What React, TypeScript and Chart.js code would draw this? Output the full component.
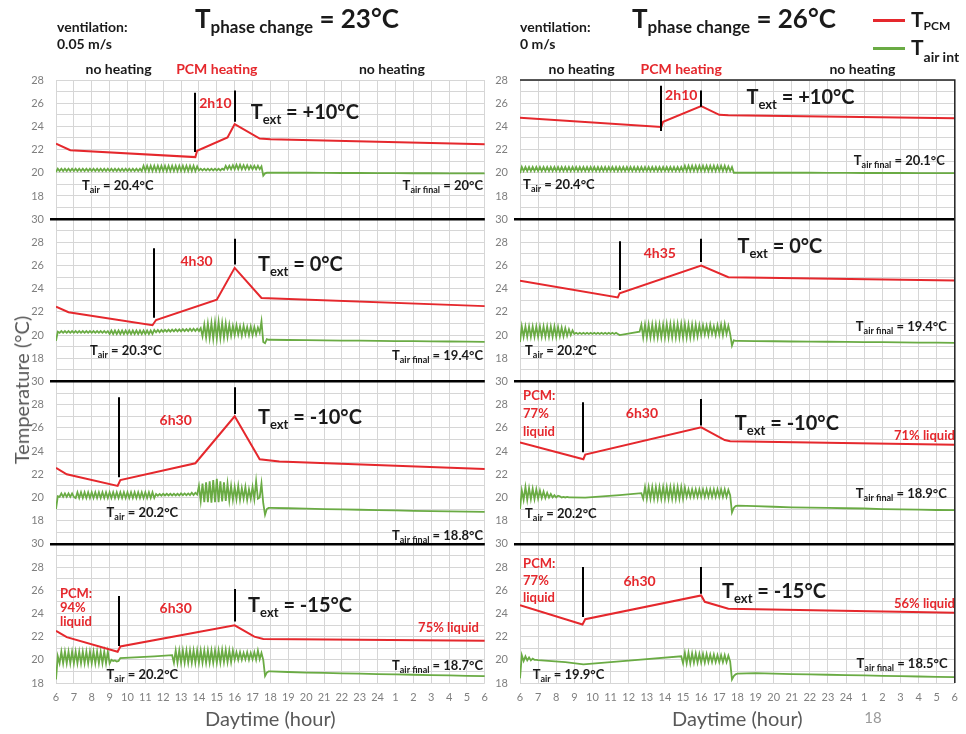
import React, { useEffect, useRef } from 'react';
import { Chart, registerables } from 'chart.js';

Chart.register(...registerables);

const FONT = 'Lato, "Open Sans", sans-serif';
const RED = '#e5282d';
const GREEN = '#6aab44';
const GRID = '#d6d6d6';
const TICK = '#7f7f7f';
const INK = '#1a1a1a';

// x tick labels: hours 6 .. 24 then 1 .. 6 of the next day
const HOUR_LABELS = ['6', '7', '8', '9', '10', '11', '12', '13', '14', '15', '16', '17', '18', '19', '20', '21', '22', '23', '24', '1', '2', '3', '4', '5', '6'];

// ---------- T PCM, breakpoints [hour, °C] ----------
const PCM_L1: [number, number][] = [[6, 22.5], [6.8, 21.95], [13.8, 21.35], [13.9, 21.9], [15.6, 23.05], [16, 24.2], [17.4, 22.95], [18, 22.9], [30, 22.45]];
const PCM_L2: [number, number][] = [[6, 22.45], [6.7, 21.97], [11.4, 20.85], [11.6, 21.3], [15, 23.05], [16, 25.8], [17.5, 23.2], [30, 22.5]];
const PCM_L3: [number, number][] = [[6, 22.55], [6.6, 22.0], [9.45, 21.0], [9.6, 21.5], [13.8, 22.95], [16, 27.0], [17.4, 23.3], [18.5, 23.1], [30, 22.45]];
const PCM_L4: [number, number][] = [[6, 22.5], [6.6, 21.95], [9.45, 20.7], [9.6, 21.15], [16, 22.97], [17.1, 22.0], [17.6, 21.8], [30, 21.65]];
const PCM_R1: [number, number][] = [[6, 24.75], [13.8, 23.95], [13.9, 24.4], [16, 25.75], [17, 25.0], [17.5, 24.95], [30, 24.7]];
const PCM_R2: [number, number][] = [[6, 24.7], [11.4, 23.25], [11.5, 23.6], [16, 26.0], [17.5, 25.0], [30, 24.7]];
const PCM_R3: [number, number][] = [[6, 24.75], [9.5, 23.3], [9.6, 23.7], [16, 26.05], [17.3, 24.95], [17.6, 24.85], [30, 24.55]];
const PCM_R4: [number, number][] = [[6, 24.7], [9.45, 23.05], [9.6, 23.5], [16, 25.55], [16.2, 25.0], [17.5, 24.4], [30, 24.05]];

// ---------- T air int, 6:00 .. 17:54 every 6 min (null = straight stretch) ----------
const AIR_L1_DAY: (number | null)[] = [
  20.05, 20.35, 20.15, 20.35, 20.15, 20.35, 20.15, 20.35, 20.15, 20.35,
  20.15, 20.35, 20.15, 20.35, 20.15, 20.35, 20.15, 20.35, 20.15, 20.35,
  20.15, 20.35, 20.15, 20.35, 20.15, 20.35, 20.15, 20.35, 20.15, 20.35,
  20.15, 20.35, 20.15, 20.35, 20.15, 20.35, 20.15, 20.35, 20.15, 20.35,
  20.15, 20.35, 20.15, 20.35, 20.15, 20.35, 20.15, 20.35, 20.15, 20.6,
  20.15, 20.6, 20.15, 20.6, 20.15, 20.6, 20.15, 20.6, 20.15, 20.6,
  20.15, 20.6, 20.15, 20.6, 20.15, 20.6, 20.15, 20.6, 20.15, 20.6,
  20.15, 20.6, 20.15, 20.6, 20.15, 20.6, 20.15, 20.6, 20.15, 20.55,
  20.2, 20.35, 20.2, 20.35, 20.2, 20.35, 20.2, 20.35, 20.2, 20.35,
  20.2, 20.35, 20.2, 20.35, 20.25, 20.6, 20.3, 20.6, 20.3, 20.65,
  20.3, 20.7, 20.3, 20.7, 20.3, 20.65, 20.3, 20.65, 20.3, 20.6,
  20.3, 20.6, 20.3, 20.6, 20.3, 20.55, 19.75, 19.95, 20.0, 20.0,
];
const AIR_L2_DAY: (number | null)[] = [
  19.5, 20.3, 20.2, 20.35, 20.2, 20.35, 20.2, 20.35, 20.2, 20.35,
  20.2, 20.35, 20.2, 20.35, 20.2, 20.35, 20.2, 20.35, 20.2, 20.35,
  20.2, 20.35, 20.2, 20.35, 20.2, 20.35, 20.2, 20.35, 20.2, 20.35,
  20.1, 20.4, 20.1, 20.4, 20.1, 20.4, 20.1, 20.4, 20.1, 20.4,
  20.1, 20.4, 20.1, 20.4, 20.1, 20.4, 20.1, 20.4, 20.1, 20.4,
  20.1, 20.4, 20.1, 20.4, 20.1, 20.45, 20.25, 20.45, 20.25, 20.45,
  20.28, 20.45, 20.3, 20.48, 20.3, 20.48, 20.32, 20.5, 20.32, 20.5,
  20.32, 20.52, 20.35, 20.52, 20.35, 20.55, 20.35, 20.55, 20.35, 20.55,
  20.35, 20.6, 19.9, 20.9, 19.8, 21.0, 19.75, 21.05, 19.7, 21.1,
  19.7, 21.15, 19.75, 21.05, 19.8, 21.0, 19.85, 20.9, 19.95, 20.8,
  20.0, 20.85, 20.05, 20.75, 19.95, 20.8, 20.05, 20.7, 20.0, 20.75,
  20.0, 20.7, 20.05, 20.65, 20.2, 21.2, 19.4, 19.3, 19.65, 19.6,
];
const AIR_L3_DAY: (number | null)[] = [
  19.0, 20.1, 20.05, 20.35, 20.05, 20.35, 20.05, 20.35, 20.05, 20.35,
  20.05, 19.95, 20.45, 19.95, 20.45, 19.95, 20.45, 19.95, 20.45, 19.95,
  20.45, 19.95, 20.45, 19.95, 20.45, 19.95, 20.45, 19.95, 20.45, 19.95,
  20.45, 19.95, 20.45, 19.95, 20.45, 19.95, 20.45, 19.95, 20.45, 19.95,
  20.45, 19.95, 20.45, 19.95, 20.45, 19.95, 20.45, 19.95, 20.45, 19.95,
  20.45, 19.95, 20.45, 19.95, 20.45, 19.95, 20.3, 20.15, 20.3, 20.15,
  20.32, 20.17, 20.32, 20.17, 20.32, 20.17, 20.32, 20.17, 20.32, 20.17,
  20.35, 20.2, 20.35, 20.2, 20.35, 20.2, 20.4, 20.2, 20.4, 20.25,
  21.0, 19.7, 21.2, 19.6, 21.3, 19.6, 21.4, 19.55, 21.5, 19.6,
  21.6, 19.6, 21.4, 19.65, 21.3, 19.7, 21.2, 19.75, 21.0, 19.8,
  20.9, 19.85, 21.0, 19.8, 20.8, 19.9, 20.9, 19.8, 20.7, 19.9,
  20.9, 19.85, 21.4, 19.9, 20.0, 21.2, 19.5, 18.5, 19.0, 19.1,
];
const AIR_L4_DAY: (number | null)[] = [
  18.3, 20.3, 19.7, 20.7, 19.7, 20.7, 19.7, 20.7, 19.7, 20.7,
  19.7, 20.7, 19.7, 20.7, 19.7, 20.7, 19.7, 20.7, 19.7, 20.7,
  19.7, 20.7, 19.7, 20.7, 19.7, 20.7, 19.7, 20.7, 19.7, 20.7,
  19.7, 20.0, 19.9, 19.95, 19.85, 19.9, 20.15, null, null, null,
  null, null, null, null, null, null, null, null, null, null,
  null, null, null, null, null, 20.3, null, null, null, null,
  null, null, null, null, null, 20.4, 19.75, 20.8, 19.75, 20.8,
  19.75, 20.8, 19.75, 20.8, 19.75, 20.8, 19.75, 20.8, 19.75, 20.8,
  19.75, 20.8, 19.75, 20.8, 19.75, 20.8, 19.75, 20.8, 19.75, 20.8,
  19.75, 20.8, 19.75, 20.85, 19.8, 20.85, 19.8, 20.8, 19.8, 20.8,
  20.0, 20.65, 20.0, 20.65, 20.0, 20.6, 20.05, 20.65, 20.0, 20.6,
  20.05, 20.65, 20.0, 20.8, 20.05, 20.6, 20.0, 18.6, 18.9, 19.0,
];
const AIR_R1_DAY: (number | null)[] = [
  19.95, 20.5, 20.15, 20.5, 20.15, 20.5, 20.15, 20.5, 20.15, 20.5,
  20.15, 20.5, 20.15, 20.5, 20.15, 20.5, 20.15, 20.5, 20.15, 20.5,
  20.15, 20.5, 20.15, 20.5, 20.15, 20.5, 20.15, 20.5, 20.15, 20.5,
  20.15, 20.5, 20.15, 20.5, 20.15, 20.5, 20.15, 20.5, 20.15, 20.5,
  20.15, 20.5, 20.15, 20.5, 20.15, 20.5, 20.15, 20.5, 20.15, 20.5,
  20.15, 20.5, 20.15, 20.5, 20.15, 20.5, 20.15, 20.5, 20.15, 20.5,
  20.15, 20.5, 20.15, 20.5, 20.15, 20.5, 20.15, 20.5, 20.15, 20.5,
  20.15, 20.5, 20.15, 20.5, 20.15, 20.5, 20.15, 20.5, 20.15, 20.5,
  20.15, 20.5, 20.15, 20.5, 20.15, 20.5, 20.15, 20.5, 20.15, 20.5,
  20.15, 20.6, 20.15, 20.6, 20.15, 20.6, 20.15, 20.6, 20.15, 20.6,
  20.15, 20.6, 20.15, 20.6, 20.15, 20.6, 20.15, 20.6, 20.15, 20.6,
  20.15, 20.6, 20.15, 20.6, 20.15, 20.55, 20.15, 20.5, 20.0, 20.0,
];
const AIR_R2_DAY: (number | null)[] = [
  19.4, 20.75, 19.85, 20.75, 19.85, 20.75, 19.85, 20.75, 19.85, 20.75,
  19.85, 20.75, 19.85, 20.75, 19.85, 20.75, 19.85, 20.75, 19.85, 20.75,
  19.85, 20.7, 19.9, 20.65, 19.9, 20.6, 19.95, 20.5, 20.0, 20.4,
  20.1, 20.2, 20.1, 20.2, 20.1, 20.2, 20.1, 20.2, 20.1, 20.2,
  20.1, 20.2, 20.1, 20.2, 20.1, 20.2, 20.1, 20.2, 20.1, 20.2,
  20.1, 20.2, 20.1, 20.2, 20.1, 20.0, null, null, null, null,
  null, null, null, null, null, null, 20.3, 20.9, 19.8, 20.9,
  19.8, 20.9, 19.8, 20.9, 19.8, 20.9, 19.8, 20.9, 19.8, 20.9,
  19.8, 20.95, 19.8, 20.95, 19.8, 20.95, 19.8, 20.95, 19.8, 20.95,
  19.8, 20.95, 19.8, 20.9, 19.8, 20.9, 19.85, 20.9, 19.9, 20.85,
  20.0, 20.85, 20.05, 20.8, 20.0, 20.9, 20.1, 20.75, 20.0, 20.85,
  20.05, 20.9, 20.0, 20.95, 20.1, 20.8, 20.1, 19.1, 19.55, 19.5,
];
const AIR_R3_DAY: (number | null)[] = [
  19.0, 20.6, 19.8, 20.9, 19.8, 20.8, 19.85, 20.75, 19.85, 20.7,
  19.9, 20.6, 19.95, 20.5, 19.95, 20.4, 20.0, 20.3, 20.0, 20.2,
  20.0, 20.15, 20.1, 20.0, 20.05, 20.0, 20.05, 20.0, 20.0, null,
  null, null, null, null, null, null, 19.98, null, null, null,
  null, null, null, null, null, null, null, null, null, null,
  null, null, null, null, null, 20.2, null, null, null, null,
  null, null, null, null, null, null, null, 20.37, 19.9, 20.9,
  19.9, 20.9, 19.9, 20.9, 19.9, 20.9, 19.9, 20.9, 19.9, 20.9,
  19.9, 20.9, 19.9, 20.9, 19.9, 20.9, 19.9, 20.9, 19.9, 20.9,
  19.9, 20.85, 20.05, 20.7, 20.05, 20.7, 20.05, 20.7, 20.05, 20.7,
  20.05, 20.7, 20.05, 20.7, 20.05, 20.7, 20.05, 20.7, 20.05, 20.7,
  20.05, 20.7, 20.05, 20.7, 20.05, 20.65, 20.2, 18.7, 19.1, 19.25,
];
const AIR_R4_DAY: (number | null)[] = [
  18.4, 20.4, 19.9, 20.3, 19.95, 20.2, 19.95, 20.1, 20.0, 20.0,
  19.97, null, null, null, null, null, null, null, null, null,
  null, null, null, null, null, 19.8, null, null, null, null,
  null, null, null, null, null, 19.6, null, null, null, null,
  null, null, null, null, null, null, null, null, null, null,
  null, null, null, null, null, null, null, null, null, null,
  null, null, null, null, null, 20.0, null, null, null, null,
  null, null, null, null, null, null, null, null, null, null,
  null, null, null, null, null, null, null, null, null, 20.3,
  19.7, 20.6, 19.7, 20.6, 19.7, 20.55, 19.75, 20.55, 19.75, 20.5,
  19.75, 20.5, 19.75, 20.5, 19.8, 20.45, 19.8, 20.45, 19.8, 20.4,
  19.8, 20.4, 19.8, 20.4, 19.8, 20.35, 19.85, 18.3, 18.6, 18.75,
];

// ---------- T air int, hourly 18:00 .. 6:00 next day ----------
const AIR_L1_NIGHT = [20.0, 20.0, 20.0, 19.99, 19.98, 19.98, 19.97, 19.97, 19.96, 19.96, 19.95, 19.95, 19.94];
const AIR_L2_NIGHT = [19.6, 19.58, 19.56, 19.55, 19.53, 19.52, 19.5, 19.49, 19.48, 19.46, 19.45, 19.44, 19.42];
const AIR_L3_NIGHT = [19.1, 19.07, 19.04, 19.0, 18.97, 18.94, 18.91, 18.88, 18.85, 18.82, 18.8, 18.77, 18.75];
const AIR_L4_NIGHT = [19.0, 18.95, 18.9, 18.87, 18.83, 18.8, 18.77, 18.74, 18.71, 18.68, 18.65, 18.62, 18.6];
const AIR_R1_NIGHT = [20.0, 20.0, 20.0, 20.0, 20.0, 19.99, 19.99, 19.98, 19.98, 19.98, 19.97, 19.97, 19.97];
const AIR_R2_NIGHT = [19.5, 19.48, 19.47, 19.45, 19.44, 19.43, 19.42, 19.4, 19.39, 19.38, 19.36, 19.35, 19.33];
const AIR_R3_NIGHT = [19.3, 19.25, 19.2, 19.15, 19.12, 19.1, 19.07, 19.05, 19.0, 18.97, 18.95, 18.92, 18.9];
const AIR_R4_NIGHT = [18.8, 18.85, 18.8, 18.77, 18.74, 18.71, 18.68, 18.65, 18.62, 18.59, 18.56, 18.53, 18.5];

// ---------- panel y ranges (°C) ----------
const PANEL_RANGES: [number, number][] = [[16, 28], [16, 30], [16, 30], [18, 30]];

// ---------- annotation layout ----------
type Note =
  | { kind: 'dur'; x: number; y: number; text: string }
  | { kind: 'ext'; x: number; y: number; text: string }
  | { kind: 'air'; x: number; y: number; sub: string; text: string; align: 'left' | 'right' }
  | { kind: 'red'; x: number; y: number; lines: string[]; align: 'left' | 'right'; gap: number };

interface Panel {
  pcm: [number, number][];
  airDay: (number | null)[];
  airNight: number[];
  markers: [number, number, number][];
  notes: Note[];
}
interface Column {
  panels: Panel[];
  phases: [number, string, boolean][];
  frame: boolean;
  left: number;
  width: number;
  yWidth: number;
  padRight: number;
}

const LEFT: Column = {
  left: 0, width: 496, yWidth: 56, padRight: 7, frame: false,
  phases: [[9.5, 'no heating', false], [15.0, 'PCM heating', true], [24.8, 'no heating', false]],
  panels: [
    {
      pcm: PCM_L1, airDay: AIR_L1_DAY, airNight: AIR_L1_NIGHT,
      markers: [[13.8, 26.9, 21.8], [16, 27.1, 24.4]],
      notes: [
        { kind: 'dur', x: 14.92, y: 26.0, text: '2h10' },
        { kind: 'ext', x: 16.9, y: 25.2, text: '+10°C' },
        { kind: 'air', x: 7.45, y: 18.87, sub: 'air', text: '20.4°C', align: 'left' },
        { kind: 'air', x: 29.9, y: 18.87, sub: 'air final', text: '20°C', align: 'right' },
      ],
    },
    {
      pcm: PCM_L2, airDay: AIR_L2_DAY, airNight: AIR_L2_NIGHT,
      markers: [[11.5, 27.5, 21.5], [16, 28.3, 26.1]],
      notes: [
        { kind: 'dur', x: 13.87, y: 26.35, text: '4h30' },
        { kind: 'ext', x: 17.3, y: 26.1, text: '0°C' },
        { kind: 'air', x: 7.9, y: 18.7, sub: 'air', text: '20.3°C', align: 'left' },
        { kind: 'air', x: 29.9, y: 18.26, sub: 'air final', text: '19.4°C', align: 'right' },
      ],
    },
    {
      pcm: PCM_L3, airDay: AIR_L3_DAY, airNight: AIR_L3_NIGHT,
      markers: [[9.5, 28.65, 21.75], [16, 29.5, 27.2]],
      notes: [
        { kind: 'dur', x: 12.7, y: 26.7, text: '6h30' },
        { kind: 'ext', x: 17.3, y: 26.9, text: '-10°C' },
        { kind: 'air', x: 8.83, y: 18.7, sub: 'air', text: '20.2°C', align: 'left' },
        { kind: 'air', x: 29.9, y: 16.7, sub: 'air final', text: '18.8°C', align: 'right' },
      ],
    },
    {
      pcm: PCM_L4, airDay: AIR_L4_DAY, airNight: AIR_L4_NIGHT,
      markers: [[9.5, 25.5, 21.2], [16, 26.1, 23.3]],
      notes: [
        { kind: 'red', x: 6.22, y: 25.7, lines: ['PCM:', '94%', 'liquid'], align: 'left', gap: 14 },
        { kind: 'dur', x: 12.7, y: 24.5, text: '6h30' },
        { kind: 'ext', x: 16.75, y: 24.7, text: '-15°C' },
        { kind: 'red', x: 29.67, y: 22.8, lines: ['75% liquid'], align: 'right', gap: 0 },
        { kind: 'air', x: 8.83, y: 18.7, sub: 'air', text: '20.2°C', align: 'left' },
        { kind: 'air', x: 29.9, y: 19.55, sub: 'air final', text: '18.7°C', align: 'right' },
      ],
    },
  ],
};

const RIGHT: Column = {
  left: 490, width: 476, yWidth: 30, padRight: 11, frame: true,
  phases: [[9.4, 'no heating', false], [14.9, 'PCM heating', true], [24.9, 'no heating', false]],
  panels: [
    {
      pcm: PCM_R1, airDay: AIR_R1_DAY, airNight: AIR_R1_NIGHT,
      markers: [[13.8, 27.5, 23.6], [16, 27.1, 25.7]],
      notes: [
        { kind: 'dur', x: 14.9, y: 26.7, text: '2h10' },
        { kind: 'ext', x: 18.5, y: 26.5, text: '+10°C' },
        { kind: 'air', x: 6.17, y: 18.95, sub: 'air', text: '20.4°C', align: 'left' },
        { kind: 'air', x: 29.45, y: 21.04, sub: 'air final', text: '20.1°C', align: 'right' },
      ],
    },
    {
      pcm: PCM_R2, airDay: AIR_R2_DAY, airNight: AIR_R2_NIGHT,
      markers: [[11.5, 28.1, 23.9], [16, 28.3, 26.3]],
      notes: [
        { kind: 'dur', x: 13.72, y: 27.1, text: '4h35' },
        { kind: 'ext', x: 18.0, y: 27.65, text: '0°C' },
        { kind: 'air', x: 6.28, y: 18.7, sub: 'air', text: '20.2°C', align: 'left' },
        { kind: 'air', x: 29.56, y: 20.7, sub: 'air final', text: '19.4°C', align: 'right' },
      ],
    },
    {
      pcm: PCM_R3, airDay: AIR_R3_DAY, airNight: AIR_R3_NIGHT,
      markers: [[9.5, 28.2, 23.9], [16, 28.5, 26.2]],
      notes: [
        { kind: 'red', x: 6.17, y: 28.8, lines: ['PCM:', '77%', 'liquid'], align: 'left', gap: 18 },
        { kind: 'dur', x: 12.73, y: 27.3, text: '6h30' },
        { kind: 'ext', x: 17.86, y: 26.4, text: '-10°C' },
        { kind: 'red', x: 30.0, y: 25.35, lines: ['71% liquid'], align: 'right', gap: 0 },
        { kind: 'air', x: 6.28, y: 18.6, sub: 'air', text: '20.2°C', align: 'left' },
        { kind: 'air', x: 29.56, y: 20.35, sub: 'air final', text: '18.9°C', align: 'right' },
      ],
    },
    {
      pcm: PCM_R4, airDay: AIR_R4_DAY, airNight: AIR_R4_NIGHT,
      markers: [[9.5, 28.0, 23.7], [16, 28.0, 25.7]],
      notes: [
        { kind: 'red', x: 6.17, y: 28.3, lines: ['PCM:', '77%', 'liquid'], align: 'left', gap: 17 },
        { kind: 'dur', x: 12.6, y: 26.8, text: '6h30' },
        { kind: 'ext', x: 17.15, y: 25.9, text: '-15°C' },
        { kind: 'red', x: 30.0, y: 24.85, lines: ['56% liquid'], align: 'right', gap: 0 },
        { kind: 'air', x: 6.7, y: 18.7, sub: 'air', text: '19.9°C', align: 'left' },
        { kind: 'air', x: 29.6, y: 19.7, sub: 'air final', text: '18.5°C', align: 'right' },
      ],
    },
  ],
};

function airPoints(day: (number | null)[], night: number[]) {
  return [
    ...day.map((y, i) => ({ x: 6 + i / 10, y })),
    ...night.map((y, j) => ({ x: 18 + j, y })),
  ];
}

function rich(ctx: CanvasRenderingContext2D, x: number, base: number, parts: [string, number, number][], align: string, color: string) {
  ctx.fillStyle = color;
  ctx.textBaseline = 'alphabetic';
  ctx.textAlign = 'left';
  const widths = parts.map(([t, s]) => {
    ctx.font = `bold ${s}px ${FONT}`;
    return ctx.measureText(t).width;
  });
  const total = widths.reduce((a, b) => a + b, 0);
  let cx = align === 'right' ? x - total : align === 'center' ? x - total / 2 : x;
  parts.forEach(([t, s, dy], k) => {
    ctx.font = `bold ${s}px ${FONT}`;
    ctx.fillText(t, cx, base + dy);
    cx += widths[k];
  });
}

function makeOverlay(col: Column) {
  return {
    id: 'overlay',
    afterDatasetsDraw(chart: any) {
      const ctx: CanvasRenderingContext2D = chart.ctx;
      const xs = chart.scales.x;
      ctx.save();
      ctx.strokeStyle = '#000';
      ctx.lineWidth = 2;
      col.panels.forEach((p, i) => {
        const ys = chart.scales['y' + i];
        p.markers.forEach(([h, top, bot]) => {
          const px = Math.round(xs.getPixelForValue(h));
          ctx.beginPath();
          ctx.moveTo(px, ys.getPixelForValue(top));
          ctx.lineTo(px, ys.getPixelForValue(bot));
          ctx.stroke();
        });
      });
      ctx.restore();
    },
    afterDraw(chart: any) {
      const ctx: CanvasRenderingContext2D = chart.ctx;
      const xs = chart.scales.x;
      const area = chart.chartArea;
      ctx.save();
      if (col.frame) {
        ctx.strokeStyle = '#222';
        ctx.lineWidth = 1.5;
        ctx.beginPath();
        ctx.moveTo(area.left, area.top);
        ctx.lineTo(area.right, area.top);
        ctx.lineTo(area.right, area.bottom);
        ctx.stroke();
      }
      col.phases.forEach(([h, text, red]) => {
        rich(ctx, xs.getPixelForValue(h), area.top - 6, [[text, 14, 0]], 'center', red ? RED : INK);
      });
      col.panels.forEach((p, i) => {
        const ys = chart.scales['y' + i];
        p.notes.forEach((n) => {
          const px = xs.getPixelForValue(n.x);
          const py = ys.getPixelForValue(n.y);
          if (n.kind === 'dur') {
            rich(ctx, px, py + 5, [[n.text, 14, 0]], 'center', RED);
          } else if (n.kind === 'ext') {
            rich(ctx, px, py + 7, [['T', 20, 0], ['ext', 13, 5], [' = ' + n.text, 20, 0]], 'left', INK);
          } else if (n.kind === 'air') {
            rich(ctx, px, py + 4.5, [['T', 13, 0], [n.sub, 9, 3], [' = ' + n.text, 13, 0]], n.align, INK);
          } else {
            n.lines.forEach((l, k) => rich(ctx, px, py + 4.5 + k * n.gap, [[l, 13, 0]], n.align, RED));
          }
        });
      });
      ctx.restore();
    },
  };
}

function ColumnChart({ col }: { col: Column }) {
  const ref = useRef<HTMLCanvasElement | null>(null);
  useEffect(() => {
    if (!ref.current) return;
    const datasets: any[] = [];
    col.panels.forEach((p, i) => {
      datasets.push({
        label: 'T PCM',
        data: p.pcm.map(([x, y]) => ({ x, y })),
        yAxisID: 'y' + i,
        borderColor: RED,
        borderWidth: 2,
        pointRadius: 0,
        order: 1,
      });
      datasets.push({
        label: 'T air int',
        data: airPoints(p.airDay, p.airNight),
        yAxisID: 'y' + i,
        borderColor: GREEN,
        borderWidth: 1.8,
        pointRadius: 0,
        spanGaps: true,
        order: 2,
      });
    });
    const scales: any = {
      x: {
        type: 'linear',
        min: 6,
        max: 30,
        border: { display: false },
        grid: { color: GRID, drawTicks: false },
        ticks: {
          stepSize: 1,
          autoSkip: false,
          maxRotation: 0,
          padding: 8,
          color: TICK,
          font: { family: FONT, size: 11 },
          callback: (v: any) => HOUR_LABELS[Number(v) - 6] ?? '',
        },
        title: {
          display: true,
          text: 'Daytime (hour)',
          color: '#595959',
          font: { family: FONT, size: 20 },
          padding: { top: 0, bottom: 2 },
        },
        afterFit: (s: any) => {
          s.height = 51;
        },
      },
    };
    PANEL_RANGES.forEach(([min, max], i) => {
      scales['y' + i] = {
        type: 'linear',
        position: 'left',
        stack: 'col',
        stackWeight: max - min,
        weight: 4 - i,
        min,
        max,
        border: { display: false },
        grid: {
          color: (c: any) => (c.tick.value === 30 ? '#000' : c.tick.value === min && i < 3 ? 'rgba(0,0,0,0)' : GRID),
          lineWidth: (c: any) => (c.tick.value === 30 ? 2.5 : 1),
          tickColor: (c: any) => (c.tick.value === 30 ? '#000' : 'rgba(0,0,0,0)'),
          tickLength: 6,
          drawTicks: true,
        },
        ticks: {
          stepSize: 1,
          autoSkip: false,
          padding: 6,
          color: TICK,
          font: { family: FONT, size: 11 },
          callback: (v: any) => (Number(v) >= 18 && Number(v) % 2 === 0 ? String(v) : ''),
        },
        afterFit: (s: any) => {
          s.width = col.yWidth;
        },
      };
    });
    const chart = new Chart(ref.current, {
      type: 'line',
      data: { datasets },
      options: {
        responsive: false,
        animation: false,
        events: [],
        layout: { padding: { top: 80, right: col.padRight, left: 0, bottom: 0 } },
        plugins: { legend: { display: false }, tooltip: { enabled: false } },
        scales,
      },
      plugins: [makeOverlay(col)],
    } as any);
    return () => chart.destroy();
  }, [col]);
  return (
    <canvas
      ref={ref}
      width={col.width}
      height={734}
      style={{ position: 'absolute', left: col.left, top: 0, width: col.width, height: 734 }}
    />
  );
}

function PhaseTitle({ left, text }: { left: number; text: string }) {
  return (
    <div style={{ position: 'absolute', left, top: 2, fontSize: 26, fontWeight: 700, whiteSpace: 'nowrap', color: INK }}>
      T<span style={{ fontSize: 17, position: 'relative', top: 5 }}>phase change</span> = {text}
    </div>
  );
}

function Ventilation({ left, text }: { left: number; text: string }) {
  return (
    <div style={{ position: 'absolute', left, top: 18, fontSize: 14, fontWeight: 700, lineHeight: '17px', color: INK, whiteSpace: 'nowrap' }}>
      ventilation:
      <br />
      {text}
    </div>
  );
}

export default function App() {
  return (
    <div style={{ position: 'absolute', left: 0, top: 0, width: 966, height: 734, overflow: 'hidden', background: '#fff', fontFamily: FONT }}>
      <ColumnChart col={LEFT} />
      <ColumnChart col={RIGHT} />
      <Ventilation left={57} text="0.05 m/s" />
      <Ventilation left={520} text="0 m/s" />
      <PhaseTitle left={195} text="23°C" />
      <PhaseTitle left={632} text="26°C" />
      <div style={{ position: 'absolute', left: 873, top: 19, width: 32, height: 3, background: RED }} />
      <div style={{ position: 'absolute', left: 911, top: 6, fontSize: 21, fontWeight: 700, whiteSpace: 'nowrap', color: INK }}>
        T<span style={{ fontSize: 12, position: 'relative', top: 3 }}>PCM</span>
      </div>
      <div style={{ position: 'absolute', left: 873, top: 47, width: 32, height: 3, background: GREEN }} />
      <div style={{ position: 'absolute', left: 911, top: 34, fontSize: 21, fontWeight: 700, whiteSpace: 'nowrap', color: INK }}>
        T<span style={{ fontSize: 14, position: 'relative', top: 7 }}>air int</span>
      </div>
      <div
        style={{
          position: 'absolute', left: 21, top: 390, transform: 'translate(-50%, -50%) rotate(-90deg)',
          fontSize: 20, color: '#595959', whiteSpace: 'nowrap',
        }}
      >
        Temperature (°C)
      </div>
      <div style={{ position: 'absolute', left: 873, top: 717, transform: 'translate(-50%, -50%)', fontSize: 15, color: '#999' }}>18</div>
    </div>
  );
}
